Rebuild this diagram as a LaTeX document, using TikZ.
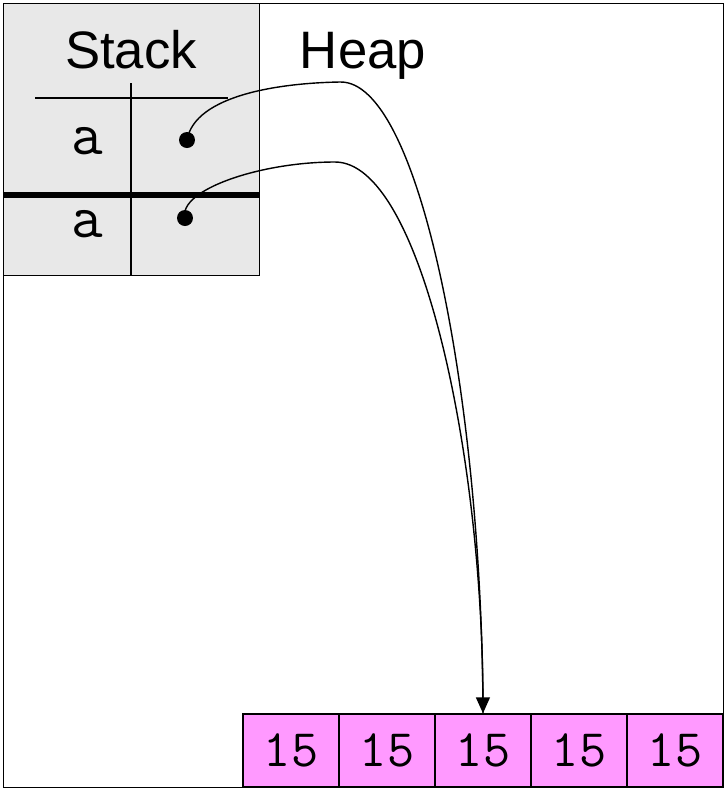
\documentclass[tikz,border=0pt]{standalone}
\usepackage{fontspec}
\setmainfont{Liberation Sans}
\usetikzlibrary{positioning}
\usetikzlibrary{arrows.meta}

\definecolor{stackgrey}{HTML}{E8E8E8}
\definecolor{heappink}{HTML}{FF99FF}

\begin{document}
\begin{tikzpicture}[x=0.02cm, y=-0.02cm, line width=0.8pt,
    cell/.style={draw, fill=heappink, minimum width=1.92cm, minimum height=1.46cm,
                 inner sep=0pt, font=\ttfamily\fontsize{30}{30}\selectfont},
    var/.style={anchor=base, inner sep=0pt, font=\ttfamily\fontsize{35}{35}\selectfont},
    dot/.style={circle, fill=black, inner sep=0pt, minimum size=0.32cm},
    title/.style={anchor=base, inner sep=0pt, font=\fontsize{30}{30}\selectfont}]

\useasboundingbox (0,0) rectangle (725,789);

% Memory frame and stack area
\node[draw, minimum width=14.4cm, minimum height=15.68cm, anchor=north west] (heap) at (3,3) {};
\node[draw, fill=stackgrey, minimum width=5.12cm, minimum height=5.44cm, anchor=north west] (stack) at (3,3) {};

% Labels
\node[title] (stacklabel) at (131,68) {Stack};
\node[title] (heaplabel) at (363,68) {Heap};

% Stack frame lines
\draw (35,98) -- (228,98);
\draw (131,83) -- (131,275);
\draw[line width=3.4pt] (3,195) -- (259,195);

% Variables
\node[var] (a1) at (87,154) {a};
\node[var] (a2) at (87,237) {a};
\node[dot] (p1) at (187,140) {};
\node[dot] (p2) at (185,218) {};

% Array cells
\foreach \i in {1,...,5} {
    \node[cell] (c\i) at ({291+96*(\i-1)},750.5) {15};
}

% References into the array
\draw (p1.center) .. controls (195,95) and (280,83) .. (340,82)
      .. controls (420,80) and (482,400) .. (c3.north);
\draw[-{Triangle[length=0.32cm,width=0.28cm]}] (p2.center) .. controls (178,190) and (260,162) .. (335,162)
      .. controls (420,162) and (482,450) .. (c3.north);

\end{tikzpicture}
\end{document}
